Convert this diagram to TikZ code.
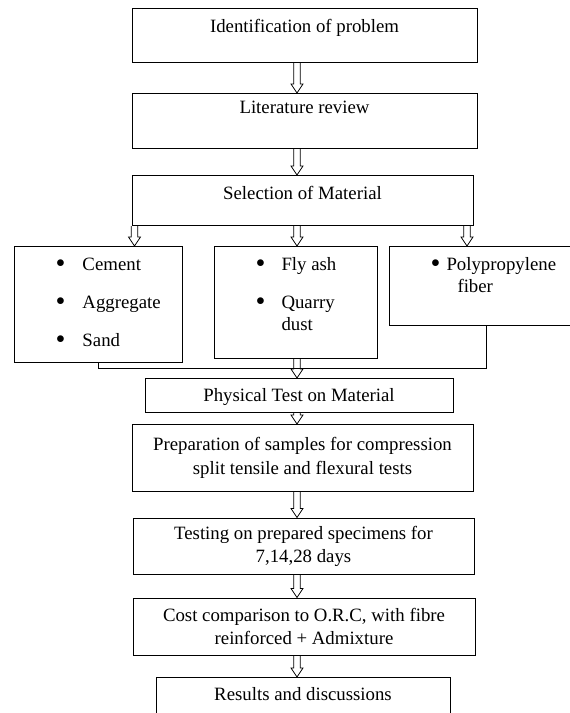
\documentclass[tikz,border=0pt]{standalone}
\usepackage{fontspec}
\setmainfont{Liberation Serif}
\usetikzlibrary{calc}
\newcommand{\matitem}[2]{\hspace*{41pt}\makebox[#1][l]{\raisebox{-2pt}{\scalebox{1.5}{\textbullet}}}#2}

\begin{document}
\begin{tikzpicture}[x=1pt, y=-1pt,
  every node/.style={font=\fontsize{18.8}{22}\selectfont},
  box/.style={draw, line width=1pt, inner sep=0pt},
  hollow/.style={line width=0.8pt, to path={let \p1=(\tikztostart), \p2=(\tikztotarget) in
    (\x1-3.3pt,\y1) -- (\x1-3.3pt,\y2+9pt) -- (\x1-6pt,\y2+9pt) -- (\x1,\y2)
    -- (\x1+6pt,\y2+9pt) -- (\x1+3.3pt,\y2+9pt) -- (\x1+3.3pt,\y1)}}]
\useasboundingbox (0,0) rectangle (570,713) ;

\coordinate (axis) at (297,0) ;
\coordinate (laxis) at (134.5,0) ;
\coordinate (raxis) at (467,0) ;

\node[box, anchor=north, minimum width=345pt, text height=24pt, text depth=30pt] at (304.5,8) (ident) {Identification of problem} ;
\node[box, anchor=north, minimum width=345pt, text height=20pt, text depth=35pt] at (304.5,93) (lit) {Literature review} ;
\node[box, anchor=north, minimum width=341pt, text height=24pt, text depth=26pt] at (302.5,175) (sel) {Selection of Material} ;

\node[box, anchor=north west] at (14,246) (cem) {\parbox[t][116pt][t]{168pt}{\rule{0pt}{24pt}\matitem{27pt}{Cement}\\[16pt]\matitem{27pt}{Aggregate}\\[16pt]\matitem{27pt}{Sand}}} ;
\node[box, anchor=north west] at (214,246) (fly) {\parbox[t][112pt][t]{163pt}{\rule{0pt}{24pt}\matitem{26pt}{Fly ash}\\[16pt]\matitem{26pt}{Quarry}\\\hspace*{67pt}dust}} ;
\node[box, anchor=north west] at (389,246) (poly) {\parbox[t][79pt][t]{194pt}{\rule{0pt}{24pt}\matitem{16pt}{Polypropylene}\\\hspace*{68pt}fiber}} ;

\node[box, anchor=north, minimum width=308pt, text height=23pt, text depth=11pt] at (299,378) (phys) {Physical Test on Material} ;
\node[box, minimum width=341pt, minimum height=67pt, align=center, font=\fontsize{18.8}{24}\selectfont] at (302.5,458) (prep) {Preparation of samples for compression\\split tensile and flexural tests} ;
\node[box, minimum width=341pt, minimum height=56pt, align=center, font=\fontsize{18.8}{23}\selectfont] at (303.5,546) (test) {Testing on prepared specimens for\\7,14,28 days} ;
\node[box, minimum width=342pt, minimum height=57pt, align=center, font=\fontsize{18.8}{23}\selectfont] at (304,626.5) (cost) {Cost comparison to O.R.C, with fibre\\reinforced + Admixture} ;
\node[box, anchor=north, minimum width=294pt, text height=23pt, text depth=30pt] at (303,677) (res) {Results and discussions} ;

\draw[hollow] (ident.south -| axis) to (lit.north -| axis) ;
\draw[hollow] (lit.south -| axis) to (sel.north -| axis) ;
\draw[hollow] (sel.south -| laxis) to (cem.north -| laxis) ;
\draw[hollow] (sel.south -| axis) to (fly.north -| axis) ;
\draw[hollow] (sel.south -| raxis) to (poly.north -| raxis) ;
\draw[line width=1pt] (cem.south) -- ++(0,5) -| (poly.south) ;
\draw[hollow] (fly.south -| axis) to (phys.north -| axis) ;
\draw[hollow] (phys.south -| axis) to (prep.north -| axis) ;
\draw[hollow] (prep.south -| axis) to (test.north -| axis) ;
\draw[hollow] (test.south -| axis) to (cost.north -| axis) ;
\draw[hollow] (cost.south -| axis) to (res.north -| axis) ;
\end{tikzpicture}
\end{document}
